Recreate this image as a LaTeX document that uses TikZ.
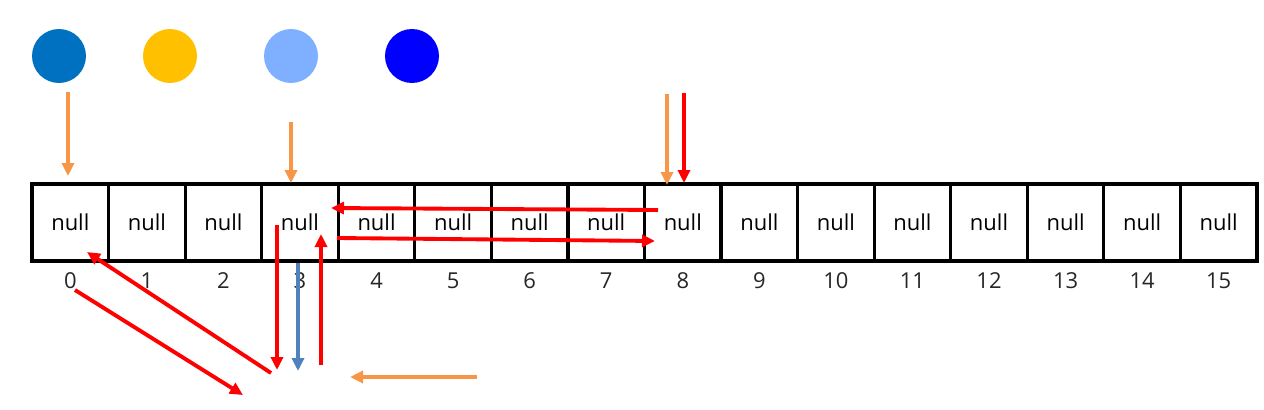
\documentclass[tikz,border=0pt]{standalone}
\usepackage{fontspec}
\setmainfont{Open Sans}
\usetikzlibrary{arrows.meta}
\definecolor{ballA}{HTML}{0070C0}
\definecolor{ballB}{HTML}{FFC000}
\definecolor{ballC}{HTML}{7EB0FF}
\definecolor{ballD}{HTML}{0000FF}
\definecolor{ptrorange}{HTML}{F79646}
\definecolor{ptrred}{HTML}{FF0000}
\definecolor{ptrblue}{HTML}{4F81BD}
\begin{document}
\begin{tikzpicture}[x=0.02cm,y=-0.02cm,>={Triangle[length=0.26cm,width=0.24cm]},
  ball/.style={circle,inner sep=0pt,minimum size=1.08cm},
  cell/.style={draw,line width=1.8pt,minimum width=1.531cm,minimum height=1.54cm,
    inner sep=0pt,font=\fontsize{12.5}{15}\selectfont},
  idx/.style={font=\fontsize{12.5}{15}\selectfont,text=black!85},
  orangeptr/.style={->,ptrorange,line width=2.2pt},
  redptr/.style={->,ptrred,line width=2.2pt},
  blueptr/.style={->,ptrblue,line width=2.2pt}]
\useasboundingbox (0,0) rectangle (1264,409);
% the four balls
\node [ball,fill=ballA] (b0) at (59,56) {};
\node [ball,fill=ballB] (b1) at (170,56) {};
\node [ball,fill=ballC] (b2) at (291,56) {};
\node [ball,fill=ballD] (b3) at (412,56) {};
% the table
\foreach \i in {0,...,15}
  \node [cell] (c\i) at ({70.3+76.56*\i},222.5) {null};
\foreach \i in {0,...,15}
  \node [idx] (n\i) at ({70.3+76.56*\i},281) {\i};
% end points of the arrows
\coordinate (o0s) at (68,92);   \coordinate (o0e) at (68,176);
\coordinate (o3s) at (291,122); \coordinate (o3e) at (291,183);
\coordinate (o8s) at (667,94);  \coordinate (o8e) at (667,185);
\coordinate (obs) at (477,377); \coordinate (obe) at (350,377);
\coordinate (r8s) at (684,93);  \coordinate (r8e) at (684,183);
\coordinate (rls) at (658,210); \coordinate (rle) at (331,208);
\coordinate (rrs) at (337,238); \coordinate (rre) at (655,241);
\coordinate (rds) at (277,225); \coordinate (rde) at (277,370);
\coordinate (rus) at (321,365); \coordinate (rue) at (321,234);
\coordinate (ras) at (271,373); \coordinate (rae) at (87,252);
\coordinate (rbs) at (75,290);  \coordinate (rbe) at (243,395);
\coordinate (bds) at (298,263); \coordinate (bde) at (298,371);
% orange arrows
\draw [orangeptr] (o0s) -- (o0e);
\draw [orangeptr] (o3s) -- (o3e);
\draw [orangeptr] (o8s) -- (o8e);
\draw [orangeptr] (obs) -- (obe);
% red arrows
\draw [redptr] (r8s) -- (r8e);
\draw [redptr] (rls) -- (rle);
\draw [redptr] (rrs) -- (rre);
\draw [redptr] (rds) -- (rde);
\draw [redptr] (rus) -- (rue);
\draw [redptr] (ras) -- (rae);
\draw [redptr] (rbs) -- (rbe);
% blue arrow
\draw [blueptr] (bds) -- (bde);
\end{tikzpicture}
\end{document}
